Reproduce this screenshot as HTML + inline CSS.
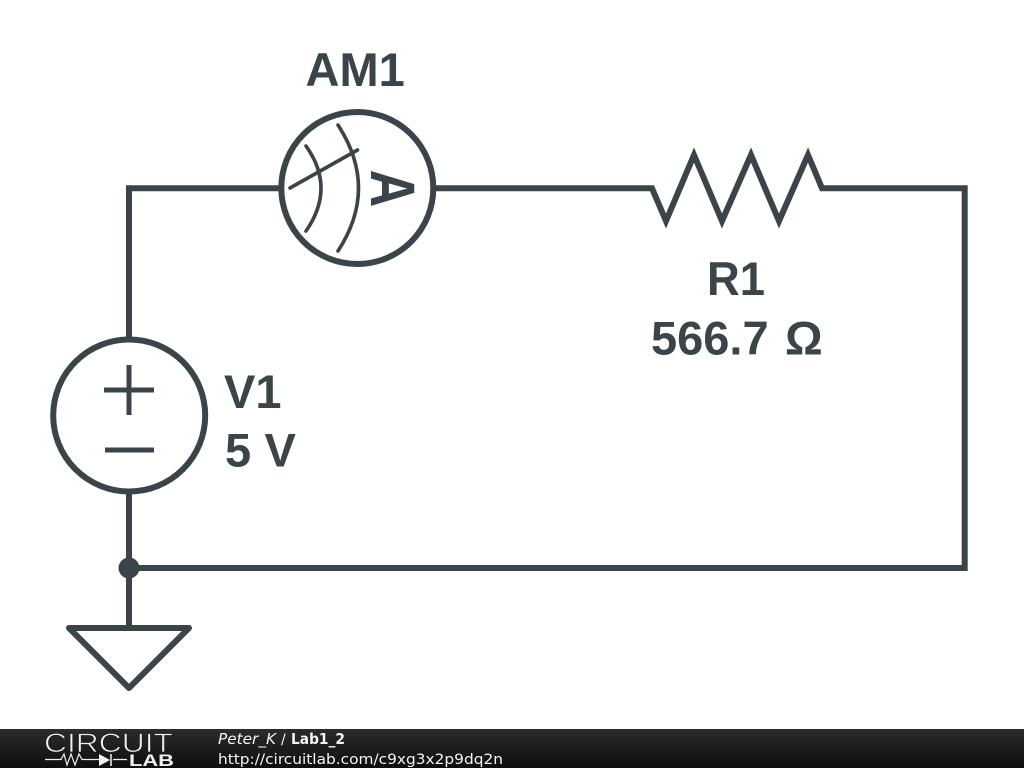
<!DOCTYPE html>
<html><head><meta charset="utf-8"><title>Lab1_2</title>
<style>html,body{margin:0;padding:0;background:#fff}svg{display:block}</style></head>
<body>
<svg xmlns="http://www.w3.org/2000/svg" width="1024" height="768" viewBox="0 0 1024 768">
<defs><linearGradient id="bar" x1="0" y1="0" x2="0" y2="1"><stop offset="0" stop-color="#2c2c2c"/><stop offset="1" stop-color="#0e0e0e"/></linearGradient></defs>
<rect width="1024" height="768" fill="#fff"/>
<g fill="none" stroke="#3b4449" stroke-width="6" stroke-linejoin="miter" stroke-miterlimit="10">
<path d="M280 188.300H129V338M435 188.300H652L666 221L694 155L722 221L751 155L779 221L808 155L822 188.300H964.700V568H129M129 493V628"/>
<circle cx="357.300" cy="188" r="76"/>
<circle cx="129.200" cy="415.500" r="76"/>
<path d="M69 628H189L129 688Z" stroke-linejoin="round"/>
</g>
<g fill="none" stroke="#3b4449" stroke-width="3.600" stroke-linecap="round">
<path d="M306 146Q336 188 306 231"/>
<path d="M338 125Q379 188 338 251"/>
<path d="M290 188L357.500 150"/>
</g>
<path d="M104 390H154M129 365V415M105 450H154" fill="none" stroke="#3b4449" stroke-width="5"/>
<circle cx="129" cy="568" r="10.500" fill="#3b4449"/>
<g font-family="'Liberation Sans',Arial,sans-serif" font-weight="700" font-size="47" fill="#3b4449">
<text x="305.500" y="86">AM1</text>
<text x="707" y="295" textLength="58" lengthAdjust="spacingAndGlyphs">R1</text>
<text x="651" y="354.500">566.7</text>
<text x="785" y="354.500">Ω</text>
<text x="224" y="408">V1</text>
<text x="225" y="466.500">5</text>
<text x="264.500" y="466.500">V</text>
<text transform="translate(371 188.500) rotate(90) scale(1 1.22)" text-anchor="middle" font-size="52">A</text>
</g>
<rect y="729" width="1024" height="39" fill="url(#bar)"/>
<g font-family="'Liberation Sans',Arial,sans-serif" fill="#f2f2f2">
<text x="44" y="752" font-size="27" textLength="129" lengthAdjust="spacingAndGlyphs" font-weight="400" stroke="#1c1c1c" stroke-width="0.8">CIRCUIT</text>
<text x="129" y="766" font-size="17" font-weight="700" textLength="45" lengthAdjust="spacingAndGlyphs">LAB</text>
</g>
<path d="M45 759.500H61L64 754L67 765L71 754L75 765L79 754L82 759.500H99M113 759.500H127" fill="none" stroke="#eee" stroke-width="1.200"/>
<path d="M99 754V766L110 760Z" fill="#f2f2f2"/>
<path d="M111 754V766" stroke="#f2f2f2" stroke-width="1.500"/>
<g font-family="'DejaVu Sans',sans-serif" font-size="14" fill="#f4f4f4">
<text x="218" y="744" font-style="italic" font-size="15" textLength="58" lengthAdjust="spacingAndGlyphs">Peter_K</text>
<text x="281" y="744">/</text>
<text x="291" y="744" font-weight="700" font-size="15" textLength="54" lengthAdjust="spacingAndGlyphs">Lab1_2</text>
<text x="218" y="764" font-size="14.500" textLength="285" lengthAdjust="spacingAndGlyphs">http://circuitlab.com/c9xg3x2p9dq2n</text>
</g>
</svg>
</body></html>
